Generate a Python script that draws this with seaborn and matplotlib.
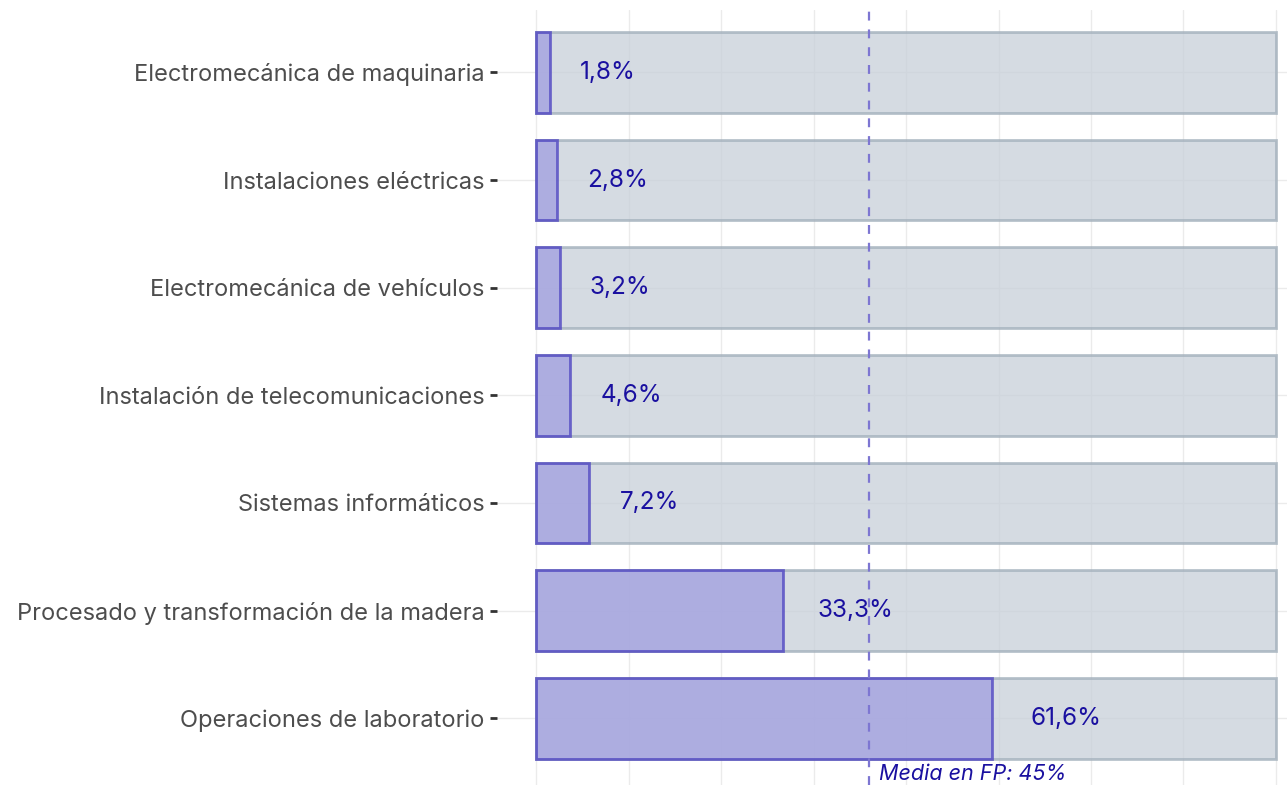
import matplotlib
matplotlib.use("Agg")
import matplotlib.pyplot as plt
import seaborn as sns
import pandas as pd
import numpy as np

# Datos
ciclos = ["Electromecánica de maquinaria",
          "Instalaciones eléctricas",
          "Electromecánica de vehículos",
          "Instalación de telecomunicaciones",
          "Sistemas informáticos",
          "Procesado y transformación de la madera",
          "Operaciones de laboratorio"]
porcentaje = [1.8, 2.8, 3.2, 4.6, 7.2, 33.3, 61.6]
etiquetas = ["1,8%", "2,8%", "3,2%", "4,6%", "7,2%", "33,3%", "61,6%"]
media_fp = 45
total = 100

df = pd.DataFrame({"ciclo": ciclos, "valor": porcentaje, "total": total})

sns.set_theme(style="white")
plt.rcParams["font.family"] = ["Inter", "DejaVu Sans"]

fig = plt.figure(figsize=(12.87, 7.85), dpi=100)
ax = fig.add_axes([497 / 1287, 0.0, 790 / 1287, 775 / 785])

# Grid
for xg in np.arange(0, 100.1, 12.5):
    ax.axvline(xg, color="#ebebeb", lw=1, zorder=0)
for i in range(len(ciclos)):
    ax.axhline(i, color="#ebebeb", lw=1, zorder=0)

# Barras de fondo (100%)
sns.barplot(data=df, y="ciclo", x="total", orient="h", color="#c7cfd9",
            alpha=0.75, edgecolor="#9fadb9", linewidth=2, width=0.75,
            saturation=1, ax=ax, zorder=2)

# Barras de valor
sns.barplot(data=df, y="ciclo", x="valor", orient="h", color="#a09ee0",
            alpha=0.75, edgecolor="#4a40c0", linewidth=2, width=0.75,
            saturation=1, ax=ax, zorder=3)

# Etiquetas de valor
for i, (v, t) in enumerate(zip(porcentaje, etiquetas)):
    ax.text(v + 4.0 + v * 0.02, i, t, ha="left", va="center", fontsize=17.5,
            color="#1a10a0", zorder=5)

# Línea de media
ax.axvline(media_fp, color="#7d76d2", lw=1.6, ls=(0, (4, 4)), zorder=4)
ax.text(media_fp + 1.4, 6.61, "Media en FP: 45%", ha="left", va="bottom",
        fontsize=15.5, style="italic", color="#1a10a0", zorder=5)

ax.set_xlim(-5.3, 101.5)
ax.set_ylim(6.62, -0.58)
ax.set_xticks([])
ax.set_xlabel("")
ax.set_ylabel("")
ax.tick_params(axis="y", length=5, width=2, color="#333333", pad=4,
               labelsize=17, labelcolor="#4d4d4d", left=True)
for s in ax.spines.values():
    s.set_visible(False)

fig.savefig("out.png", dpi=100)
